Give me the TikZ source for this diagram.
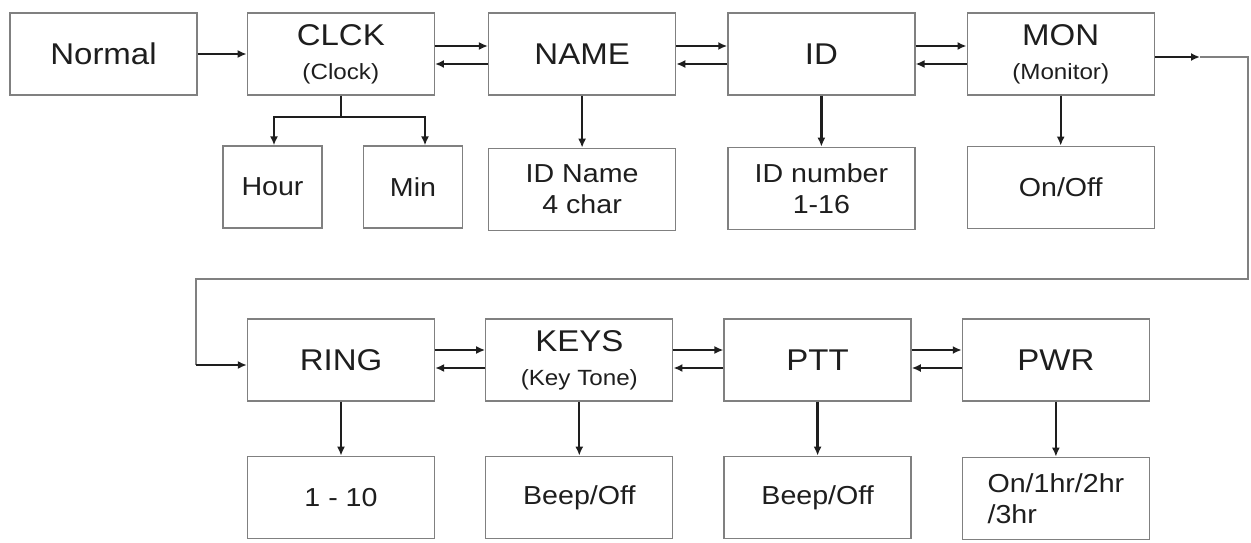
\documentclass[tikz,border=0pt]{standalone}
\usepackage{fontspec}
\setmainfont{Liberation Sans}[FakeStretch=1.1]
\usetikzlibrary{arrows.meta, positioning}
\definecolor{boxgray}{RGB}{128,128,128}
\definecolor{arrdark}{RGB}{30,30,30}
\definecolor{txtdark}{RGB}{30,30,30}
\tikzset{
  menubox/.style={rectangle, draw=boxgray, fill=white,
    minimum width=187pt, minimum height=82pt, inner sep=2pt,
    align=center, text=txtdark, line width=1.3pt,
    font=\fontsize{30}{34}\selectfont},
  subbox/.style={menubox, font=\fontsize{26}{31}\selectfont},
  smallbox/.style={subbox, minimum width=99pt},
  arrow/.style={-{Latex[length=9pt,width=8pt]}, line width=2.3pt, color=arrdark},
  line/.style={line width=2.3pt, color=arrdark},
  loopline/.style={line width=1.3pt, color=boxgray}
}
\newcommand{\menusub}[1]{{\fontsize{22}{24}\selectfont #1}}

\begin{document}
\begin{tikzpicture}[x=1pt, y=-1pt]
  \useasboundingbox (0,0) rectangle (1251,543);

  % Top row
  \node[menubox] (normal) at (103.5,54) {Normal};
  \node[menubox, right=49pt of normal] (clck) {CLCK\\\menusub{(Clock)}};
  \node[menubox, right=53pt of clck] (name) {NAME};
  \node[menubox, right=51pt of name] (id) {ID};
  \node[menubox, right=51pt of id] (mon) {MON\\\menusub{(Monitor)}};

  % Settings of the top row
  \node[smallbox] (hour) at (272.5,187) {Hour};
  \node[smallbox] (min) at (413,187) {Min};
  \node[subbox, below=52pt of name] (idname) {ID Name\\4 char};
  \node[subbox, below=51pt of id] (idnum) {ID number\\1-16};
  \node[subbox, below=50pt of mon] (monset) {On/Off};

  % Bottom row
  \node[menubox] (ring) at (341,360) {RING};
  \node[menubox, right=50pt of ring] (keys) {KEYS\\\menusub{(Key Tone)}};
  \node[menubox, right=50pt of keys] (ptt) {PTT};
  \node[menubox, right=50pt of ptt] (pwr) {PWR};

  % Settings of the bottom row
  \node[subbox, below=54pt of ring] (ringset) {1 - 10};
  \node[subbox, below=54pt of keys] (keyset) {Beep/Off};
  \node[subbox, below=54pt of ptt] (pttset) {Beep/Off};
  \node[subbox, below=55pt of pwr, align=left] (pwrset) {On/1hr/2hr\\/3hr};

  % Menu steps
  \draw[arrow] (normal.east) -- (normal.east -| clck.west);
  \draw[arrow] ([yshift=8pt]clck.east) -- ([yshift=8pt]name.west);
  \draw[arrow] ([yshift=-10pt]name.west) -- ([yshift=-10pt]clck.east);
  \draw[arrow] ([yshift=8pt]name.east) -- ([yshift=8pt]id.west);
  \draw[arrow] ([yshift=-10pt]id.west) -- ([yshift=-10pt]name.east);
  \draw[arrow] ([yshift=8pt]id.east) -- ([yshift=8pt]mon.west);
  \draw[arrow] ([yshift=-10pt]mon.west) -- ([yshift=-10pt]id.east);

  \draw[arrow] ([yshift=10pt]ring.east) -- ([yshift=10pt]keys.west);
  \draw[arrow] ([yshift=-8pt]keys.west) -- ([yshift=-8pt]ring.east);
  \draw[arrow] ([yshift=10pt]keys.east) -- ([yshift=10pt]ptt.west);
  \draw[arrow] ([yshift=-8pt]ptt.west) -- ([yshift=-8pt]keys.east);
  \draw[arrow] ([yshift=10pt]ptt.east) -- ([yshift=10pt]pwr.west);
  \draw[arrow] ([yshift=-8pt]pwr.west) -- ([yshift=-8pt]ptt.east);

  % Wrap to the bottom row
  \coordinate (wraptip) at (1200,57);
  \coordinate (wrap1) at (1248,57);
  \coordinate (wrap2) at (1248,279);
  \coordinate (wrap3) at (196,279);
  \coordinate (wrap4) at (196,365);
  \draw[loopline] (wraptip) -- (wrap1) -- (wrap2) -- (wrap3) -- (wrap4);
  \draw[arrow] (mon.east |- wraptip) -- (wraptip);
  \draw[arrow] (wrap4) -- (ring.west |- wrap4);

  % Clock branch
  \coordinate (clckfork) at (clck.south |- 0,117);
  \draw[line] (clck.south) -- (clckfork);
  \draw[arrow] (clckfork) -| ([xshift=1.5pt]hour.north);
  \draw[arrow] (clckfork) -| ([xshift=12pt]min.north);

  % Settings
  \draw[arrow] (name.south) -- (idname.north);
  \draw[arrow] (id.south) -- (idnum.north);
  \draw[arrow] (mon.south) -- (monset.north);
  \draw[arrow] (ring.south) -- (ringset.north);
  \draw[arrow] (keys.south) -- (keyset.north);
  \draw[arrow] (ptt.south) -- (pttset.north);
  \draw[arrow] (pwr.south) -- (pwrset.north);
\end{tikzpicture}
\end{document}
